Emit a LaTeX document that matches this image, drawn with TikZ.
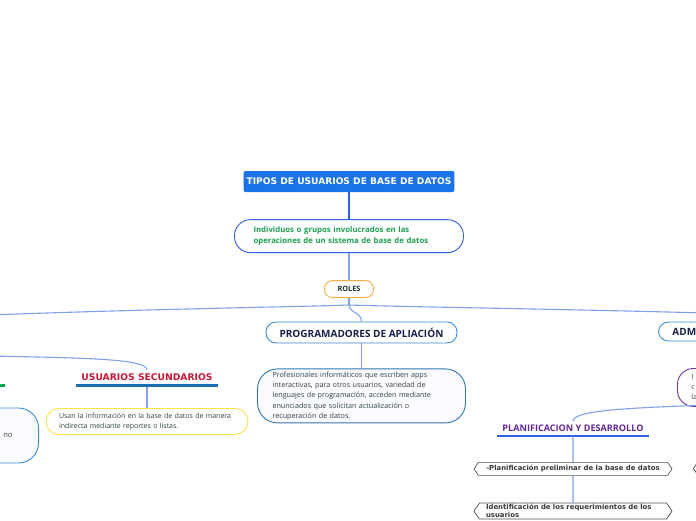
\documentclass[tikz,border=0pt]{standalone}
\usepackage{fontspec}
\setmainfont{Open Sans}
\newfontfamily\verd{DejaVu Sans}
\usetikzlibrary{shapes.symbols, positioning}
\definecolor{titleblue}{RGB}{26,115,232}
\definecolor{deepblue}{RGB}{45,95,230}
\definecolor{linkblue}{RGB}{128,160,240}
\definecolor{pillblue}{RGB}{60,140,210}
\definecolor{navy}{RGB}{22,32,72}
\definecolor{leafgreen}{RGB}{30,160,80}
\definecolor{roleorange}{RGB}{246,172,64}
\definecolor{darkgreen}{RGB}{20,58,40}
\definecolor{bodygray}{RGB}{50,66,66}
\definecolor{secred}{RGB}{200,22,52}
\definecolor{ulblue}{RGB}{22,110,180}
\definecolor{ulgreen}{RGB}{0,166,80}
\definecolor{noteyellow}{RGB}{250,226,72}
\definecolor{plumline}{RGB}{122,52,160}
\definecolor{plumtext}{RGB}{100,40,150}
\definecolor{hexgray}{RGB}{80,80,80}

\begin{document}
\begin{tikzpicture}[
    x=1pt, y=-1pt,
    titlebox/.style = {rectangle, rounded corners=2pt, fill=titleblue,
                       text=white, font=\verd\bfseries\fontsize{9.1}{10}\selectfont,
                       minimum height=21pt, inner xsep=3pt},
    pill/.style     = {rectangle, draw, line width=0.9pt, fill=white,
                       align=left, inner ysep=2pt},
    bodytext/.style = {text=bodygray, font=\fontsize{7.2}{10.2}\selectfont},
    headtext/.style = {font=\bfseries\fontsize{10}{11}\selectfont, text=navy},
    ullabel/.style  = {inner xsep=5pt, inner ysep=4pt, anchor=south},
    hexbox/.style   = {signal, signal to=west and east, signal pointer angle=112,
                       draw=hexgray, line width=0.7pt, fill=white, text=hexgray!70!black,
                       font=\verd\bfseries\fontsize{6.9}{8.4}\selectfont,
                       minimum width=198pt, minimum height=13pt,
                       inner xsep=3pt, inner ysep=1pt, align=left},
    link/.style     = {draw=linkblue, line width=1.1pt},
]
\path[use as bounding box, fill=white] (0,0) rectangle (696,520);
\clip (0,0) rectangle (696,520);

% central chain
\node[titlebox] (title) at (349,181.5) {TIPOS DE USUARIOS DE BASE DE DATOS};
\node[pill, draw=deepblue, rounded corners=16pt, minimum height=33pt,
      text width=191pt, inner xsep=19pt, text=leafgreen,
      font=\bfseries\fontsize{7.8}{10.5}\selectfont,
      below=27pt of title] (ind)
      {Individuos o grupos involucrados en las\\operaciones de un sistema de base de datos};
\node[pill, draw=roleorange, rounded corners=8pt, minimum height=17pt,
      minimum width=49pt, align=center, text=darkgreen,
      font=\bfseries\fontsize{7.3}{8}\selectfont,
      below=27pt of ind] (roles) {ROLES};
\coordinate[below=7pt of roles] (br);

% programadores
\node[pill, draw=pillblue, rounded corners=10pt, minimum height=21pt,
      minimum width=191pt, align=center, headtext] (prog) at (361.5,332.5)
      {PROGRAMADORES DE APLIACIÓN};
\node[pill, draw=pillblue!85!black, fill=blue!2, rounded corners=20pt,
      minimum height=54pt, text width=178pt, inner xsep=15pt, bodytext,
      below=25pt of prog] (prog-desc)
      {Profesionales informáticos que escriben apps\\interactivas, para otros usuarios, variedad de\\lenguajes de programación, acceden mediante\\enunciados que solicitan actualización o\\recuperación de datos.};

% usuarios secundarios
\node[ullabel, text=secred, font=\verd\bfseries\fontsize{9.2}{10}\selectfont]
      (sec) at (147,385) {USUARIOS SECUNDARIOS};
\node[pill, draw=noteyellow, rounded corners=13pt, minimum height=26pt,
      text width=176pt, inner xsep=13pt, bodytext, font=\fontsize{7}{10}\selectfont,
      below=23pt of sec] (sec-desc)
      {Usan la información en la base de datos de manera\\indirecta mediante reportes o listas.};

% cut at the left edge
\draw[line width=3pt, ulgreen] (-60,385) -- (5,385);
\node[pill, draw=pillblue, fill=blue!2, rounded corners=20pt, minimum height=55pt,
      text width=120pt, inner xsep=26pt, align=right, bodytext,
      font=\fontsize{7.6}{10}\selectfont, anchor=east] (left-desc) at (39,435.5) {no};
\coordinate (offL) at (-10,315);
\coordinate (offL2) at (-10,356);

% cut at the right edge
\node[pill, draw=pillblue, rounded corners=10pt, minimum height=19pt,
      text width=150pt, inner xsep=14pt, headtext, anchor=west] (admin) at (658,331.5) {ADMI};
\node[pill, draw=plumline, rounded corners=16pt, minimum height=38pt,
      text width=150pt, inner xsep=14pt, bodytext, font=\fontsize{7.2}{10}\selectfont,
      anchor=north west] (admin-desc) at (677,368) {I\\c\\la};
\coordinate (offR) at (706,313);
\coordinate (offR2) at (706,405);

% planificacion
\node[ullabel, text=plumtext, font=\bfseries\fontsize{9.1}{10}\selectfont]
      (plan) at (573,436) {PLANIFICACION Y DESARROLLO};
\node[hexbox, below=26pt of plan] (step-a) {-Planificación preliminar de la base de datos};
\node[hexbox, text width=174pt, below=27pt of step-a] (step-b)
      {Identificación de los requerimientos de los\\usuarios};
\node[hexbox, anchor=west, minimum width=60pt] (step-c) at (693,468.5) {};

% underlines
\draw[line width=3pt, ulblue] (sec.south west) -- (sec.south east);
\draw[line width=2pt, deepblue] (plan.south west) -- (plan.south east);

% connectors
\draw[deepblue, line width=1.1pt] (title) -- (ind);
\draw[link] (ind) -- (roles);
\draw[link] (roles) -- (br);
\draw[link] (br) .. controls (290,307) and (150,309) .. (offL);
\draw[link] (br) .. controls (410,307) and (560,309) .. (offR);
\draw[link] (br) .. controls (349,313) and (361.5,312) .. (prog.north);
\draw[link] (prog) -- (prog-desc);
\draw[link] (offL2) .. controls (90,358) and (145,359) .. (sec.north);
\coordinate[below=1.5pt of sec.south] (sec-ul);
\draw[link] (sec-ul) -- (sec-desc);
\draw[link] (offR2) .. controls (630,408) and (574,410) .. (plan.north);
\draw[link] (plan.south) -- (step-a);
\draw[link] (step-a) -- (step-b);
\end{tikzpicture}
\end{document}
